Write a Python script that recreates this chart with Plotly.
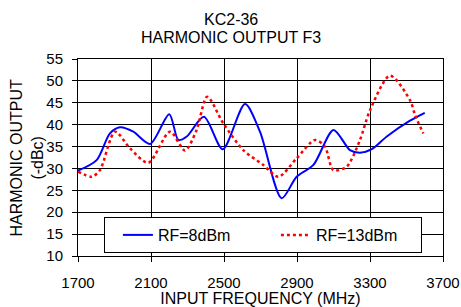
import plotly.graph_objects as go

freq_8 = [1700, 1802, 1875, 1930, 2003, 2095, 2200, 2250, 2296, 2390, 2493, 2615, 2697, 2816, 2898, 2990, 3100, 3190, 3245, 3310, 3392, 3519, 3600]
val_8 = [29.5, 31.9, 38.0, 39.4, 38.4, 35.6, 42.4, 36.5, 37.3, 41.8, 34.4, 44.7, 38.4, 23.2, 28.1, 30.8, 38.8, 34.2, 33.6, 34.4, 37.3, 40.9, 42.7]

freq_13 = [1700, 1775, 1820, 1903, 1985, 2085, 2204, 2286, 2350, 2408, 2496, 2606, 2715, 2798, 2898, 2999, 3053, 3099, 3172, 3245, 3300, 3410, 3519, 3547, 3592]
val_13 = [29.3, 28.1, 29.6, 38.4, 34.6, 31.3, 38.4, 34.1, 38.8, 46.4, 40.3, 34.2, 30.8, 28.1, 32.3, 36.5, 35.0, 29.6, 30.4, 36.5, 43.3, 51.2, 45.6, 42.2, 38.0]

x_ticks = [1700, 2100, 2500, 2900, 3300, 3700]
y_ticks = [10, 15, 20, 25, 30, 35, 40, 45, 50, 55]

FONT = "Liberation Sans, Arial, sans-serif"

fig = go.Figure()
fig.add_trace(go.Scatter(x=freq_8, y=val_8, mode="lines", name="RF=8dBm",
                         line=dict(color="#0000FF", width=2, shape="spline", smoothing=0.8)))
fig.add_trace(go.Scatter(x=freq_13, y=val_13, mode="lines", name="RF=13dBm",
                         line=dict(color="#FF0000", width=2.5, dash="dot", shape="spline", smoothing=0.8)))

fig.add_annotation(text="KC2-36", xref="paper", yref="paper",
                   x=0.42, y=1.198, xanchor="center", yanchor="middle", showarrow=False,
                   font=dict(size=16, family=FONT, color="black"))
fig.add_annotation(text="HARMONIC OUTPUT F3", xref="paper", yref="paper",
                   x=0.42, y=1.107, xanchor="center", yanchor="middle", showarrow=False,
                   font=dict(size=16, family=FONT, color="black"))
fig.add_annotation(text="HARMONIC OUTPUT<br>(-dBc)", xref="paper", yref="paper",
                   x=-0.1384, y=0.5025, xanchor="center", yanchor="middle", showarrow=False,
                   textangle=-90, font=dict(size=16, family=FONT, color="black"))

fig.update_layout(
    width=461, height=307,
    margin=dict(l=78, r=18, t=59, b=51, autoexpand=False),
    paper_bgcolor="white", plot_bgcolor="white",
    font=dict(family=FONT, size=16, color="black"),
    xaxis=dict(range=[1700, 3700], tickvals=x_ticks, showgrid=True, gridcolor="#000000", gridwidth=1,
               showline=True, linecolor="black", linewidth=1, mirror=True, automargin=False,
               ticks="outside", ticklen=5, tickcolor="black", zeroline=False, ticklabelstandoff=8,
               title=dict(text="INPUT FREQUENCY (MHz)", font=dict(size=16)),
               tickfont=dict(size=15)),
    yaxis=dict(range=[10, 55], tickvals=y_ticks, showgrid=True, gridcolor="#000000", gridwidth=1,
               showline=True, linecolor="black", linewidth=1, mirror=True, automargin=False,
               ticks="outside", ticklen=5, tickcolor="black", zeroline=False, ticklabelstandoff=6,
               tickfont=dict(size=15)),
    legend=dict(orientation="h", x=0.071, xanchor="left", y=0.198, yanchor="top",
                bgcolor="white", bordercolor="black", borderwidth=1, indentation=13,
                entrywidth=100, font=dict(size=16)),
    showlegend=True,
)

fig.write_html("out.html", config={"displayModeBar": False},
               post_script="document.body.style.margin='0px';document.body.style.padding='0px';")
